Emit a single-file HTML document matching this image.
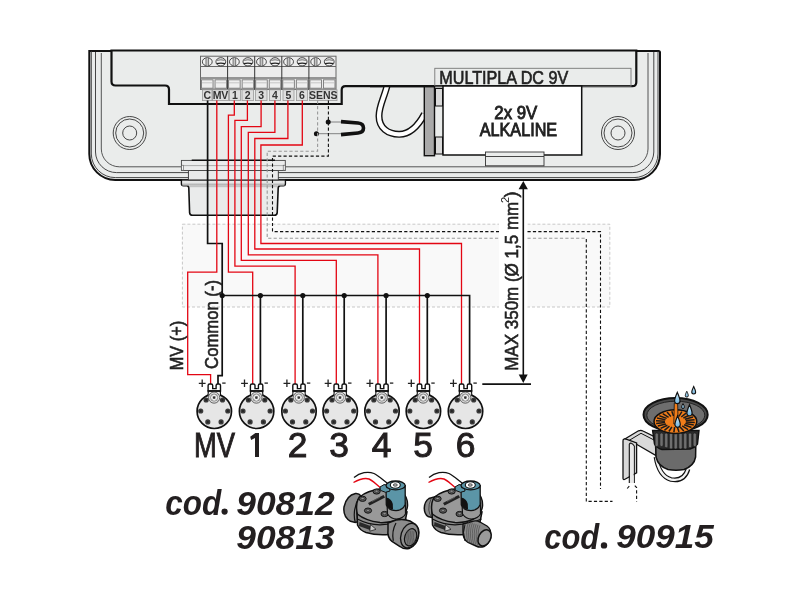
<!DOCTYPE html>
<html><head><meta charset="utf-8"><title>wiring</title><style>
html,body{margin:0;padding:0;background:#fff;width:801px;height:601px;overflow:hidden}
svg{display:block;will-change:transform}
text{font-family:"Liberation Sans", sans-serif}
</style></head><body>
<svg width="801" height="601" viewBox="0 0 801 601">

<path d="M89.3,51 L658.5,51 Q660,51 660,52.5 L660,154 A26,26 0 0 1 634,180 L115.3,180 A26,26 0 0 1 89.3,154 Z" fill="#eaeceb" stroke="#111" stroke-width="2"/>
<path d="M91.3,51 L91.3,154 A24,24 0 0 0 115.3,177.6 L634,177.6 A24,24 0 0 0 658,154 L658,51" fill="none" stroke="#333" stroke-width="0.9"/>
<path d="M95.5,52 L95.5,152 A21,21 0 0 0 116.5,172.6 L632.8,172.6 A21,21 0 0 0 653.8,152 L653.8,52" fill="none" stroke="#333" stroke-width="0.9"/>
<path d="M101.3,53 L101.3,149 A18,18 0 0 0 119.3,166.8 L630,166.8 A18,18 0 0 0 648,149 L648,53" fill="none" stroke="#444" stroke-width="0.9"/>
<circle cx="129.7" cy="133" r="16.5" fill="none" stroke="#333" stroke-width="0.9"/>
<circle cx="129.7" cy="133" r="14" fill="none" stroke="#333" stroke-width="0.9"/>
<circle cx="129.7" cy="133" r="7" fill="none" stroke="#333" stroke-width="0.9"/>
<circle cx="618" cy="133" r="16.5" fill="none" stroke="#333" stroke-width="0.9"/>
<circle cx="618" cy="133" r="14" fill="none" stroke="#333" stroke-width="0.9"/>
<circle cx="618" cy="133" r="7" fill="none" stroke="#333" stroke-width="0.9"/>
<path d="M111.5,50.5 L111.5,81.5 Q111.5,85.5 115.5,85.5 L165,85.5 Q169,85.5 169,89.5 L169,104 L341.7,104 L341.7,90 Q341.7,86.2 345.5,86.2 L632.3,86.2 Q636.3,86.2 636.3,82.2 L636.3,50.5 Z" fill="#eaeceb" stroke="#111" stroke-width="2.2"/>
<rect x="200.50" y="56.2" width="135.50" height="33.3" fill="#ececec" stroke="#666" stroke-width="1"/>
<line x1="200.50" y1="66.5" x2="336.00" y2="66.5" stroke="#666" stroke-width="1"/>
<line x1="200.50" y1="78" x2="336.00" y2="78" stroke="#777" stroke-width="1.6"/>
<line x1="200.50" y1="89.3" x2="336.00" y2="89.3" stroke="#777" stroke-width="1.6"/>
<ellipse cx="207.28" cy="61.8" rx="4.9" ry="4.1" fill="#f2f2f2" stroke="#333" stroke-width="0.9"/>
<rect x="206.18" y="58" width="2.2" height="7.6" fill="#c4c4c4"/>
<path d="M205.97,58 L205.97,65.6 M208.58,58 L208.58,65.6" stroke="#444" stroke-width="0.7"/>
<rect x="201.50" y="79.8" width="11.55" height="8.4" fill="#efefef" stroke="#777" stroke-width="0.9"/>
<line x1="202.00" y1="82.8" x2="212.55" y2="82.8" stroke="#bbb" stroke-width="0.8"/>
<ellipse cx="220.83" cy="61.8" rx="4.9" ry="4.1" fill="#f2f2f2" stroke="#333" stroke-width="0.9"/>
<path d="M217.03,60.3 Q220.83,59.3 224.63,60.3" fill="none" stroke="#444" stroke-width="0.8"/>
<path d="M216.63,63.6 Q220.83,62.6 225.03,63.6" fill="none" stroke="#222" stroke-width="1.2"/>
<rect x="215.05" y="79.8" width="11.55" height="8.4" fill="#efefef" stroke="#777" stroke-width="0.9"/>
<line x1="215.55" y1="82.8" x2="226.10" y2="82.8" stroke="#bbb" stroke-width="0.8"/>
<ellipse cx="234.38" cy="61.8" rx="4.9" ry="4.1" fill="#f2f2f2" stroke="#333" stroke-width="0.9"/>
<rect x="233.28" y="58" width="2.2" height="7.6" fill="#c4c4c4"/>
<path d="M233.07,58 L233.07,65.6 M235.68,58 L235.68,65.6" stroke="#444" stroke-width="0.7"/>
<rect x="228.60" y="79.8" width="11.55" height="8.4" fill="#efefef" stroke="#777" stroke-width="0.9"/>
<line x1="229.10" y1="82.8" x2="239.65" y2="82.8" stroke="#bbb" stroke-width="0.8"/>
<ellipse cx="247.93" cy="61.8" rx="4.9" ry="4.1" fill="#f2f2f2" stroke="#333" stroke-width="0.9"/>
<path d="M244.12,60.3 Q247.93,59.3 251.73,60.3" fill="none" stroke="#444" stroke-width="0.8"/>
<path d="M243.73,63.6 Q247.93,62.6 252.12,63.6" fill="none" stroke="#222" stroke-width="1.2"/>
<rect x="242.15" y="79.8" width="11.55" height="8.4" fill="#efefef" stroke="#777" stroke-width="0.9"/>
<line x1="242.65" y1="82.8" x2="253.20" y2="82.8" stroke="#bbb" stroke-width="0.8"/>
<ellipse cx="261.47" cy="61.8" rx="4.9" ry="4.1" fill="#f2f2f2" stroke="#333" stroke-width="0.9"/>
<rect x="260.37" y="58" width="2.2" height="7.6" fill="#c4c4c4"/>
<path d="M260.17,58 L260.17,65.6 M262.77,58 L262.77,65.6" stroke="#444" stroke-width="0.7"/>
<rect x="255.70" y="79.8" width="11.55" height="8.4" fill="#efefef" stroke="#777" stroke-width="0.9"/>
<line x1="256.20" y1="82.8" x2="266.75" y2="82.8" stroke="#bbb" stroke-width="0.8"/>
<ellipse cx="275.02" cy="61.8" rx="4.9" ry="4.1" fill="#f2f2f2" stroke="#333" stroke-width="0.9"/>
<path d="M271.22,60.3 Q275.02,59.3 278.82,60.3" fill="none" stroke="#444" stroke-width="0.8"/>
<path d="M270.82,63.6 Q275.02,62.6 279.22,63.6" fill="none" stroke="#222" stroke-width="1.2"/>
<rect x="269.25" y="79.8" width="11.55" height="8.4" fill="#efefef" stroke="#777" stroke-width="0.9"/>
<line x1="269.75" y1="82.8" x2="280.30" y2="82.8" stroke="#bbb" stroke-width="0.8"/>
<ellipse cx="288.57" cy="61.8" rx="4.9" ry="4.1" fill="#f2f2f2" stroke="#333" stroke-width="0.9"/>
<rect x="287.47" y="58" width="2.2" height="7.6" fill="#c4c4c4"/>
<path d="M287.27,58 L287.27,65.6 M289.88,58 L289.88,65.6" stroke="#444" stroke-width="0.7"/>
<rect x="282.80" y="79.8" width="11.55" height="8.4" fill="#efefef" stroke="#777" stroke-width="0.9"/>
<line x1="283.30" y1="82.8" x2="293.85" y2="82.8" stroke="#bbb" stroke-width="0.8"/>
<ellipse cx="302.12" cy="61.8" rx="4.9" ry="4.1" fill="#f2f2f2" stroke="#333" stroke-width="0.9"/>
<path d="M298.32,60.3 Q302.12,59.3 305.93,60.3" fill="none" stroke="#444" stroke-width="0.8"/>
<path d="M297.93,63.6 Q302.12,62.6 306.32,63.6" fill="none" stroke="#222" stroke-width="1.2"/>
<rect x="296.35" y="79.8" width="11.55" height="8.4" fill="#efefef" stroke="#777" stroke-width="0.9"/>
<line x1="296.85" y1="82.8" x2="307.40" y2="82.8" stroke="#bbb" stroke-width="0.8"/>
<ellipse cx="315.67" cy="61.8" rx="4.9" ry="4.1" fill="#f2f2f2" stroke="#333" stroke-width="0.9"/>
<rect x="314.57" y="58" width="2.2" height="7.6" fill="#c4c4c4"/>
<path d="M314.37,58 L314.37,65.6 M316.97,58 L316.97,65.6" stroke="#444" stroke-width="0.7"/>
<rect x="309.90" y="79.8" width="11.55" height="8.4" fill="#efefef" stroke="#777" stroke-width="0.9"/>
<line x1="310.40" y1="82.8" x2="320.95" y2="82.8" stroke="#bbb" stroke-width="0.8"/>
<ellipse cx="329.22" cy="61.8" rx="4.9" ry="4.1" fill="#f2f2f2" stroke="#333" stroke-width="0.9"/>
<path d="M325.42,60.3 Q329.22,59.3 333.02,60.3" fill="none" stroke="#444" stroke-width="0.8"/>
<path d="M325.02,63.6 Q329.22,62.6 333.42,63.6" fill="none" stroke="#222" stroke-width="1.2"/>
<rect x="323.45" y="79.8" width="11.55" height="8.4" fill="#efefef" stroke="#777" stroke-width="0.9"/>
<line x1="323.95" y1="82.8" x2="334.50" y2="82.8" stroke="#bbb" stroke-width="0.8"/>
<line x1="227.60" y1="56.2" x2="227.60" y2="89.5" stroke="#333" stroke-width="1"/>
<line x1="254.70" y1="56.2" x2="254.70" y2="89.5" stroke="#333" stroke-width="1"/>
<line x1="281.80" y1="56.2" x2="281.80" y2="89.5" stroke="#333" stroke-width="1"/>
<line x1="308.90" y1="56.2" x2="308.90" y2="89.5" stroke="#333" stroke-width="1"/>
<rect x="202.50" y="89.8" width="9.50" height="10.8" fill="#dedede" stroke="#999" stroke-width="0.8"/>
<text x="207.25" y="99.2" font-size="10.5" font-weight="bold" fill="#333" text-anchor="middle">C</text>
<rect x="212.50" y="89.8" width="16.00" height="10.8" fill="#dedede" stroke="#999" stroke-width="0.8"/>
<text x="220.50" y="99.2" font-size="10.5" font-weight="bold" fill="#333" text-anchor="middle">MV</text>
<rect x="229.50" y="89.8" width="11.00" height="10.8" fill="#dedede" stroke="#999" stroke-width="0.8"/>
<text x="235.00" y="99.2" font-size="10.5" font-weight="bold" fill="#333" text-anchor="middle">1</text>
<rect x="242.00" y="89.8" width="11.50" height="10.8" fill="#dedede" stroke="#999" stroke-width="0.8"/>
<text x="247.75" y="99.2" font-size="10.5" font-weight="bold" fill="#333" text-anchor="middle">2</text>
<rect x="255.50" y="89.8" width="11.50" height="10.8" fill="#dedede" stroke="#999" stroke-width="0.8"/>
<text x="261.25" y="99.2" font-size="10.5" font-weight="bold" fill="#333" text-anchor="middle">3</text>
<rect x="269.50" y="89.8" width="11.00" height="10.8" fill="#dedede" stroke="#999" stroke-width="0.8"/>
<text x="275.00" y="99.2" font-size="10.5" font-weight="bold" fill="#333" text-anchor="middle">4</text>
<rect x="283.00" y="89.8" width="11.00" height="10.8" fill="#dedede" stroke="#999" stroke-width="0.8"/>
<text x="288.50" y="99.2" font-size="10.5" font-weight="bold" fill="#333" text-anchor="middle">5</text>
<rect x="296.50" y="89.8" width="11.00" height="10.8" fill="#dedede" stroke="#999" stroke-width="0.8"/>
<text x="302.00" y="99.2" font-size="10.5" font-weight="bold" fill="#333" text-anchor="middle">6</text>
<rect x="309.50" y="89.8" width="27.50" height="10.8" fill="#dedede" stroke="#999" stroke-width="0.8"/>
<text x="323.25" y="99.2" font-size="10.5" font-weight="bold" fill="#333" text-anchor="middle">SENS</text>
<rect x="434.8" y="68.3" width="196.2" height="17.9" fill="none" stroke="#777" stroke-width="0.9"/>
<text x="439.3" y="83.6" font-size="17.8" fill="#222" stroke="#222" stroke-width="0.6" textLength="129" lengthAdjust="spacingAndGlyphs">MULTIPLA DC 9V</text>
<path d="M387,86 C384,98 379,106 379,116 C379,128 388,134.3 399,134.3 C410,134.5 418,126 424.5,114" fill="none" stroke="#111" stroke-width="7"/>
<path d="M387,86 C384,98 379,106 379,116 C379,128 388,134.3 399,134.3 C410,134.5 418,126 424.5,114" fill="none" stroke="#fff" stroke-width="4.2"/>
<line x1="370" y1="86.2" x2="426" y2="86.2" stroke="#111" stroke-width="2.2"/>
<rect x="424.3" y="86.7" width="10.2" height="69" fill="#a9a9a9" stroke="#111" stroke-width="1.4"/>
<rect x="435.5" y="88.5" width="7" height="17.5" fill="#dadada" stroke="#111" stroke-width="1"/>
<rect x="435.5" y="137" width="7" height="17" fill="#dadada" stroke="#111" stroke-width="1"/>
<rect x="443" y="86" width="138.7" height="69" fill="#fff" stroke="#111" stroke-width="1.5"/>
<rect x="485.5" y="152" width="58.5" height="13.8" fill="#eaeceb" stroke="#333" stroke-width="0.9"/>
<line x1="485.5" y1="156.5" x2="544" y2="156.5" stroke="#333" stroke-width="0.9"/>
<text x="494.3" y="118.7" font-size="17.6" fill="#222" stroke="#222" stroke-width="0.85" textLength="43" lengthAdjust="spacingAndGlyphs">2x 9V</text>
<text x="479.7" y="135.5" font-size="17.6" fill="#222" stroke="#222" stroke-width="0.85" textLength="77.5" lengthAdjust="spacingAndGlyphs">ALKALINE</text>
<line x1="328.2" y1="122" x2="342" y2="122" stroke="#777" stroke-width="0.9"/>
<line x1="316.4" y1="133.7" x2="342" y2="133.7" stroke="#777" stroke-width="0.9"/>
<path d="M341,121.6 L358,123 Q363.5,123.5 363.5,128 Q363.5,132.5 358,133 L341,134.6" fill="none" stroke="#111" stroke-width="3.6"/>
<defs><linearGradient id="gfl" x1="0" y1="0" x2="0" y2="1"><stop offset="0" stop-color="#ebecec"/><stop offset="0.45" stop-color="#e4e5e5"/><stop offset="0.75" stop-color="#b4b5b5"/><stop offset="1" stop-color="#c9caca"/></linearGradient></defs>
<path d="M181.5,180 L181.5,184 Q181.5,185.6 183.5,185.6 L186.8,185.6 Q188.8,185.6 188.8,188 L189.6,212.6 Q189.8,215.3 192.5,215.3 L274.3,215.3 Q277,215.3 277.2,212.6 L278.2,188 Q278.2,185.6 280.5,185.6 L283.4,185.6 Q285.3,185.6 285.3,184 L285.3,180 Z" fill="#eaebeb" stroke="#111" stroke-width="1.6"/>
<rect x="182.3" y="180.6" width="102.2" height="5" fill="url(#gfl)"/>
<rect x="189.6" y="185.2" width="87.8" height="2" fill="#c2c3c3"/>
<rect x="188.4" y="170.5" width="89.9" height="9.5" fill="#eaebeb" stroke="#333" stroke-width="0.9"/>
<rect x="181.4" y="160.4" width="103.9" height="10.1" fill="#ebecec" stroke="#444" stroke-width="0.9"/>
<line x1="181.8" y1="165.6" x2="284.9" y2="165.6" stroke="#aaa" stroke-width="1"/>
<rect x="181.6" y="165.2" width="2" height="5" fill="#f6f6f6" stroke="#555" stroke-width="0.6"/>
<rect x="283.2" y="165.2" width="2" height="5" fill="#f6f6f6" stroke="#555" stroke-width="0.6"/>
<line x1="191.7" y1="160.2" x2="275" y2="160.2" stroke="#111" stroke-width="1.6"/>
<line x1="182" y1="180.2" x2="285" y2="180.2" stroke="#444" stroke-width="0.9"/>
<rect x="182.4" y="224.2" width="427.4" height="82.8" fill="#f9f9f9" stroke="#bbb" stroke-width="0.8" stroke-dasharray="3,2"/>
<rect x="499" y="222" width="28.5" height="90" fill="#fff"/>
<path d="M207.6,100.6 L207.6,243.5 L222.2,243.5 L222.2,375.6 L218,375.6 L218,385" fill="none" stroke="#111" stroke-width="1.7"/>
<path d="M216.8,100.6 L216.8,272.2 L187.7,272.2 L187.7,374.6 L210.6,374.6 L210.6,385" fill="none" stroke="#e30613" stroke-width="1.3"/>
<path d="M234.3,100.6 L234.3,115.2 L228.4,115.2 L228.4,272.2 L252.7,272.2 L252.7,385" fill="none" stroke="#e30613" stroke-width="1.3"/>
<path d="M247.4,100.6 L247.4,120.3 L234.9,120.3 L234.9,266.2 L295.1,266.2 L295.1,385" fill="none" stroke="#e30613" stroke-width="1.3"/>
<path d="M261.1,100.6 L261.1,126.6 L241.3,126.6 L241.3,260.3 L336.3,260.3 L336.3,385" fill="none" stroke="#e30613" stroke-width="1.3"/>
<path d="M274.9,100.6 L274.9,132.3 L248.3,132.3 L248.3,254.8 L377.9,254.8 L377.9,385" fill="none" stroke="#e30613" stroke-width="1.3"/>
<path d="M287.9,100.6 L287.9,138.5 L254.8,138.5 L254.8,249.0 L419.5,249.0 L419.5,385" fill="none" stroke="#e30613" stroke-width="1.3"/>
<path d="M302.3,100.6 L302.3,145.0 L260.9,145.0 L260.9,243.5 L461.5,243.5 L461.5,385" fill="none" stroke="#e30613" stroke-width="1.3"/>
<path d="M222.2,295.5 L469.6,295.5 L469.6,385" fill="none" stroke="#111" stroke-width="1.7"/>
<line x1="260.4" y1="295.5" x2="260.4" y2="385" stroke="#111" stroke-width="1.7"/>
<line x1="302.8" y1="295.5" x2="302.8" y2="385" stroke="#111" stroke-width="1.7"/>
<line x1="344.2" y1="295.5" x2="344.2" y2="385" stroke="#111" stroke-width="1.7"/>
<line x1="386.1" y1="295.5" x2="386.1" y2="385" stroke="#111" stroke-width="1.7"/>
<line x1="427.3" y1="295.5" x2="427.3" y2="385" stroke="#111" stroke-width="1.7"/>
<circle cx="222.2" cy="295.5" r="2.6" fill="#111"/>
<circle cx="260.4" cy="295.5" r="2.6" fill="#111"/>
<circle cx="302.8" cy="295.5" r="2.6" fill="#111"/>
<circle cx="344.2" cy="295.5" r="2.6" fill="#111"/>
<circle cx="386.1" cy="295.5" r="2.6" fill="#111"/>
<circle cx="427.3" cy="295.5" r="2.6" fill="#111"/>
<circle cx="328.2" cy="122" r="2.5" fill="#111"/>
<circle cx="316.4" cy="133.7" r="2.5" fill="#111"/>
<path d="M317.6,100.6 L317.6,151.2 L267.2,151.2 L267.2,238.2 L499,238.2 M527.5,238.2 L586.3,238.2" fill="none" stroke="#999" stroke-width="1.1" stroke-dasharray="3.2,2.2"/>
<path d="M586.3,239 L586.3,501.4 L612.5,501.4" fill="none" stroke="#111" stroke-width="1.1" stroke-dasharray="3.2,2.2"/>
<path d="M328.4,100.6 L328.4,156.1 L272.5,156.1 L272.5,231.6 L499,231.6 M527.5,231.6 L600.5,231.6 L600.5,489" fill="none" stroke="#111" stroke-width="1.1" stroke-dasharray="3.2,2.2"/>
<line x1="523.3" y1="186" x2="523.3" y2="378" stroke="#111" stroke-width="1.6"/>
<path d="M523.3,181 L527.9,189.2 L518.6,189.2 Z" fill="#111"/>
<path d="M523.3,383 L527.7,374.6 L518.7,374.6 Z" fill="#111"/>
<line x1="482.3" y1="384.1" x2="531" y2="384.1" stroke="#111" stroke-width="1.7"/>
<text transform="translate(518.2,370.8) rotate(-90)" font-size="19.2" fill="#222" stroke="#222" stroke-width="0.6" textLength="169" lengthAdjust="spacingAndGlyphs">MAX 350m (Ø 1,5 mm</text>
<text transform="translate(508.6,203) rotate(-90)" font-size="11" fill="#222">2</text>
<text transform="translate(516.6,197.5) rotate(-90)" font-size="19.2" fill="#222" stroke="#222" stroke-width="0.6" textLength="6" lengthAdjust="spacingAndGlyphs">)</text>
<text transform="translate(218.2,368.9) rotate(-90)" font-size="19" fill="#222" stroke="#222" stroke-width="0.6" textLength="88.9" lengthAdjust="spacingAndGlyphs">Common (-)</text>
<text transform="translate(183.4,370.3) rotate(-90)" font-size="19" fill="#222" stroke="#222" stroke-width="0.6" textLength="49.4" lengthAdjust="spacingAndGlyphs">MV (+)</text>
<g transform="translate(214.3,0)">
<path d="M-6,390 L-6,395 M6,390 L6,395" stroke="#111" stroke-width="1.4"/>
<circle cx="0" cy="411.3" r="17.2" fill="#e6e6e6" stroke="#111" stroke-width="1.7"/>
<path d="M-6.2,391 L-6.2,385.6 Q-6.2,384 -4.6,384 L-3.2,384 Q-1.6,384 -1.6,385.6 L-1.6,388.6 L1.8,388.6 L1.8,385.6 Q1.8,384 3.4,384 L4.6,384 Q6.2,384 6.2,385.6 L6.2,391 Z" fill="#fff" stroke="#111" stroke-width="1.4"/>
<rect x="-6.2" y="390.2" width="12.4" height="1.6" fill="#111"/>
<path d="M-5.6,392.5 L5.6,392.5 L5.6,396 Q0,394.5 -5.6,396 Z" fill="#e6e6e6"/>
<circle cx="-0.2" cy="397.6" r="5.6" fill="#ddd" stroke="#444" stroke-width="0.8"/>
<circle cx="-0.2" cy="397.6" r="3.6" fill="#f2f2f2" stroke="#666" stroke-width="0.7"/>
<path d="M-3.2,394.6 L2.8,400.6 M2.8,394.6 L-3.2,400.6" stroke="#888" stroke-width="0.5"/>
<circle cx="-0.2" cy="397.6" r="1.3" fill="#333"/>
<circle cx="-8.2" cy="400" r="2.6" fill="#3a3a3a"/>
<circle cx="-8.2" cy="400" r="1" fill="#222"/>
<circle cx="8.2" cy="400" r="2.6" fill="#3a3a3a"/>
<circle cx="8.2" cy="400" r="1" fill="#222"/>
<circle cx="-13.6" cy="411" r="2.6" fill="#3a3a3a"/>
<circle cx="-13.6" cy="411" r="1" fill="#222"/>
<circle cx="13.5" cy="411" r="2.6" fill="#3a3a3a"/>
<circle cx="13.5" cy="411" r="1" fill="#222"/>
<circle cx="-6.5" cy="421.9" r="2.6" fill="#3a3a3a"/>
<circle cx="-6.5" cy="421.9" r="1" fill="#222"/>
<circle cx="6.8" cy="421.9" r="2.6" fill="#3a3a3a"/>
<circle cx="6.8" cy="421.9" r="1" fill="#222"/>
<path d="M-15.5,383.3 L-8.7,383.3 M-12.1,379.6 L-12.1,387" stroke="#222" stroke-width="1.3"/>
<path d="M7.9,383.1 L11.3,383.1" stroke="#222" stroke-width="1.3"/>
</g>
<g transform="translate(256.6,0)">
<path d="M-6,390 L-6,395 M6,390 L6,395" stroke="#111" stroke-width="1.4"/>
<circle cx="0" cy="411.3" r="17.2" fill="#e6e6e6" stroke="#111" stroke-width="1.7"/>
<path d="M-6.2,391 L-6.2,385.6 Q-6.2,384 -4.6,384 L-3.2,384 Q-1.6,384 -1.6,385.6 L-1.6,388.6 L1.8,388.6 L1.8,385.6 Q1.8,384 3.4,384 L4.6,384 Q6.2,384 6.2,385.6 L6.2,391 Z" fill="#fff" stroke="#111" stroke-width="1.4"/>
<rect x="-6.2" y="390.2" width="12.4" height="1.6" fill="#111"/>
<path d="M-5.6,392.5 L5.6,392.5 L5.6,396 Q0,394.5 -5.6,396 Z" fill="#e6e6e6"/>
<circle cx="-0.2" cy="397.6" r="5.6" fill="#ddd" stroke="#444" stroke-width="0.8"/>
<circle cx="-0.2" cy="397.6" r="3.6" fill="#f2f2f2" stroke="#666" stroke-width="0.7"/>
<path d="M-3.2,394.6 L2.8,400.6 M2.8,394.6 L-3.2,400.6" stroke="#888" stroke-width="0.5"/>
<circle cx="-0.2" cy="397.6" r="1.3" fill="#333"/>
<circle cx="-8.2" cy="400" r="2.6" fill="#3a3a3a"/>
<circle cx="-8.2" cy="400" r="1" fill="#222"/>
<circle cx="8.2" cy="400" r="2.6" fill="#3a3a3a"/>
<circle cx="8.2" cy="400" r="1" fill="#222"/>
<circle cx="-13.6" cy="411" r="2.6" fill="#3a3a3a"/>
<circle cx="-13.6" cy="411" r="1" fill="#222"/>
<circle cx="13.5" cy="411" r="2.6" fill="#3a3a3a"/>
<circle cx="13.5" cy="411" r="1" fill="#222"/>
<circle cx="-6.5" cy="421.9" r="2.6" fill="#3a3a3a"/>
<circle cx="-6.5" cy="421.9" r="1" fill="#222"/>
<circle cx="6.8" cy="421.9" r="2.6" fill="#3a3a3a"/>
<circle cx="6.8" cy="421.9" r="1" fill="#222"/>
<path d="M-15.5,383.3 L-8.7,383.3 M-12.1,379.6 L-12.1,387" stroke="#222" stroke-width="1.3"/>
<path d="M7.9,383.1 L11.3,383.1" stroke="#222" stroke-width="1.3"/>
</g>
<g transform="translate(299.0,0)">
<path d="M-6,390 L-6,395 M6,390 L6,395" stroke="#111" stroke-width="1.4"/>
<circle cx="0" cy="411.3" r="17.2" fill="#e6e6e6" stroke="#111" stroke-width="1.7"/>
<path d="M-6.2,391 L-6.2,385.6 Q-6.2,384 -4.6,384 L-3.2,384 Q-1.6,384 -1.6,385.6 L-1.6,388.6 L1.8,388.6 L1.8,385.6 Q1.8,384 3.4,384 L4.6,384 Q6.2,384 6.2,385.6 L6.2,391 Z" fill="#fff" stroke="#111" stroke-width="1.4"/>
<rect x="-6.2" y="390.2" width="12.4" height="1.6" fill="#111"/>
<path d="M-5.6,392.5 L5.6,392.5 L5.6,396 Q0,394.5 -5.6,396 Z" fill="#e6e6e6"/>
<circle cx="-0.2" cy="397.6" r="5.6" fill="#ddd" stroke="#444" stroke-width="0.8"/>
<circle cx="-0.2" cy="397.6" r="3.6" fill="#f2f2f2" stroke="#666" stroke-width="0.7"/>
<path d="M-3.2,394.6 L2.8,400.6 M2.8,394.6 L-3.2,400.6" stroke="#888" stroke-width="0.5"/>
<circle cx="-0.2" cy="397.6" r="1.3" fill="#333"/>
<circle cx="-8.2" cy="400" r="2.6" fill="#3a3a3a"/>
<circle cx="-8.2" cy="400" r="1" fill="#222"/>
<circle cx="8.2" cy="400" r="2.6" fill="#3a3a3a"/>
<circle cx="8.2" cy="400" r="1" fill="#222"/>
<circle cx="-13.6" cy="411" r="2.6" fill="#3a3a3a"/>
<circle cx="-13.6" cy="411" r="1" fill="#222"/>
<circle cx="13.5" cy="411" r="2.6" fill="#3a3a3a"/>
<circle cx="13.5" cy="411" r="1" fill="#222"/>
<circle cx="-6.5" cy="421.9" r="2.6" fill="#3a3a3a"/>
<circle cx="-6.5" cy="421.9" r="1" fill="#222"/>
<circle cx="6.8" cy="421.9" r="2.6" fill="#3a3a3a"/>
<circle cx="6.8" cy="421.9" r="1" fill="#222"/>
<path d="M-15.5,383.3 L-8.7,383.3 M-12.1,379.6 L-12.1,387" stroke="#222" stroke-width="1.3"/>
<path d="M7.9,383.1 L11.3,383.1" stroke="#222" stroke-width="1.3"/>
</g>
<g transform="translate(340.2,0)">
<path d="M-6,390 L-6,395 M6,390 L6,395" stroke="#111" stroke-width="1.4"/>
<circle cx="0" cy="411.3" r="17.2" fill="#e6e6e6" stroke="#111" stroke-width="1.7"/>
<path d="M-6.2,391 L-6.2,385.6 Q-6.2,384 -4.6,384 L-3.2,384 Q-1.6,384 -1.6,385.6 L-1.6,388.6 L1.8,388.6 L1.8,385.6 Q1.8,384 3.4,384 L4.6,384 Q6.2,384 6.2,385.6 L6.2,391 Z" fill="#fff" stroke="#111" stroke-width="1.4"/>
<rect x="-6.2" y="390.2" width="12.4" height="1.6" fill="#111"/>
<path d="M-5.6,392.5 L5.6,392.5 L5.6,396 Q0,394.5 -5.6,396 Z" fill="#e6e6e6"/>
<circle cx="-0.2" cy="397.6" r="5.6" fill="#ddd" stroke="#444" stroke-width="0.8"/>
<circle cx="-0.2" cy="397.6" r="3.6" fill="#f2f2f2" stroke="#666" stroke-width="0.7"/>
<path d="M-3.2,394.6 L2.8,400.6 M2.8,394.6 L-3.2,400.6" stroke="#888" stroke-width="0.5"/>
<circle cx="-0.2" cy="397.6" r="1.3" fill="#333"/>
<circle cx="-8.2" cy="400" r="2.6" fill="#3a3a3a"/>
<circle cx="-8.2" cy="400" r="1" fill="#222"/>
<circle cx="8.2" cy="400" r="2.6" fill="#3a3a3a"/>
<circle cx="8.2" cy="400" r="1" fill="#222"/>
<circle cx="-13.6" cy="411" r="2.6" fill="#3a3a3a"/>
<circle cx="-13.6" cy="411" r="1" fill="#222"/>
<circle cx="13.5" cy="411" r="2.6" fill="#3a3a3a"/>
<circle cx="13.5" cy="411" r="1" fill="#222"/>
<circle cx="-6.5" cy="421.9" r="2.6" fill="#3a3a3a"/>
<circle cx="-6.5" cy="421.9" r="1" fill="#222"/>
<circle cx="6.8" cy="421.9" r="2.6" fill="#3a3a3a"/>
<circle cx="6.8" cy="421.9" r="1" fill="#222"/>
<path d="M-15.5,383.3 L-8.7,383.3 M-12.1,379.6 L-12.1,387" stroke="#222" stroke-width="1.3"/>
<path d="M7.9,383.1 L11.3,383.1" stroke="#222" stroke-width="1.3"/>
</g>
<g transform="translate(382.0,0)">
<path d="M-6,390 L-6,395 M6,390 L6,395" stroke="#111" stroke-width="1.4"/>
<circle cx="0" cy="411.3" r="17.2" fill="#e6e6e6" stroke="#111" stroke-width="1.7"/>
<path d="M-6.2,391 L-6.2,385.6 Q-6.2,384 -4.6,384 L-3.2,384 Q-1.6,384 -1.6,385.6 L-1.6,388.6 L1.8,388.6 L1.8,385.6 Q1.8,384 3.4,384 L4.6,384 Q6.2,384 6.2,385.6 L6.2,391 Z" fill="#fff" stroke="#111" stroke-width="1.4"/>
<rect x="-6.2" y="390.2" width="12.4" height="1.6" fill="#111"/>
<path d="M-5.6,392.5 L5.6,392.5 L5.6,396 Q0,394.5 -5.6,396 Z" fill="#e6e6e6"/>
<circle cx="-0.2" cy="397.6" r="5.6" fill="#ddd" stroke="#444" stroke-width="0.8"/>
<circle cx="-0.2" cy="397.6" r="3.6" fill="#f2f2f2" stroke="#666" stroke-width="0.7"/>
<path d="M-3.2,394.6 L2.8,400.6 M2.8,394.6 L-3.2,400.6" stroke="#888" stroke-width="0.5"/>
<circle cx="-0.2" cy="397.6" r="1.3" fill="#333"/>
<circle cx="-8.2" cy="400" r="2.6" fill="#3a3a3a"/>
<circle cx="-8.2" cy="400" r="1" fill="#222"/>
<circle cx="8.2" cy="400" r="2.6" fill="#3a3a3a"/>
<circle cx="8.2" cy="400" r="1" fill="#222"/>
<circle cx="-13.6" cy="411" r="2.6" fill="#3a3a3a"/>
<circle cx="-13.6" cy="411" r="1" fill="#222"/>
<circle cx="13.5" cy="411" r="2.6" fill="#3a3a3a"/>
<circle cx="13.5" cy="411" r="1" fill="#222"/>
<circle cx="-6.5" cy="421.9" r="2.6" fill="#3a3a3a"/>
<circle cx="-6.5" cy="421.9" r="1" fill="#222"/>
<circle cx="6.8" cy="421.9" r="2.6" fill="#3a3a3a"/>
<circle cx="6.8" cy="421.9" r="1" fill="#222"/>
<path d="M-15.5,383.3 L-8.7,383.3 M-12.1,379.6 L-12.1,387" stroke="#222" stroke-width="1.3"/>
<path d="M7.9,383.1 L11.3,383.1" stroke="#222" stroke-width="1.3"/>
</g>
<g transform="translate(423.4,0)">
<path d="M-6,390 L-6,395 M6,390 L6,395" stroke="#111" stroke-width="1.4"/>
<circle cx="0" cy="411.3" r="17.2" fill="#e6e6e6" stroke="#111" stroke-width="1.7"/>
<path d="M-6.2,391 L-6.2,385.6 Q-6.2,384 -4.6,384 L-3.2,384 Q-1.6,384 -1.6,385.6 L-1.6,388.6 L1.8,388.6 L1.8,385.6 Q1.8,384 3.4,384 L4.6,384 Q6.2,384 6.2,385.6 L6.2,391 Z" fill="#fff" stroke="#111" stroke-width="1.4"/>
<rect x="-6.2" y="390.2" width="12.4" height="1.6" fill="#111"/>
<path d="M-5.6,392.5 L5.6,392.5 L5.6,396 Q0,394.5 -5.6,396 Z" fill="#e6e6e6"/>
<circle cx="-0.2" cy="397.6" r="5.6" fill="#ddd" stroke="#444" stroke-width="0.8"/>
<circle cx="-0.2" cy="397.6" r="3.6" fill="#f2f2f2" stroke="#666" stroke-width="0.7"/>
<path d="M-3.2,394.6 L2.8,400.6 M2.8,394.6 L-3.2,400.6" stroke="#888" stroke-width="0.5"/>
<circle cx="-0.2" cy="397.6" r="1.3" fill="#333"/>
<circle cx="-8.2" cy="400" r="2.6" fill="#3a3a3a"/>
<circle cx="-8.2" cy="400" r="1" fill="#222"/>
<circle cx="8.2" cy="400" r="2.6" fill="#3a3a3a"/>
<circle cx="8.2" cy="400" r="1" fill="#222"/>
<circle cx="-13.6" cy="411" r="2.6" fill="#3a3a3a"/>
<circle cx="-13.6" cy="411" r="1" fill="#222"/>
<circle cx="13.5" cy="411" r="2.6" fill="#3a3a3a"/>
<circle cx="13.5" cy="411" r="1" fill="#222"/>
<circle cx="-6.5" cy="421.9" r="2.6" fill="#3a3a3a"/>
<circle cx="-6.5" cy="421.9" r="1" fill="#222"/>
<circle cx="6.8" cy="421.9" r="2.6" fill="#3a3a3a"/>
<circle cx="6.8" cy="421.9" r="1" fill="#222"/>
<path d="M-15.5,383.3 L-8.7,383.3 M-12.1,379.6 L-12.1,387" stroke="#222" stroke-width="1.3"/>
<path d="M7.9,383.1 L11.3,383.1" stroke="#222" stroke-width="1.3"/>
</g>
<g transform="translate(465.5,0)">
<path d="M-6,390 L-6,395 M6,390 L6,395" stroke="#111" stroke-width="1.4"/>
<circle cx="0" cy="411.3" r="17.2" fill="#e6e6e6" stroke="#111" stroke-width="1.7"/>
<path d="M-6.2,391 L-6.2,385.6 Q-6.2,384 -4.6,384 L-3.2,384 Q-1.6,384 -1.6,385.6 L-1.6,388.6 L1.8,388.6 L1.8,385.6 Q1.8,384 3.4,384 L4.6,384 Q6.2,384 6.2,385.6 L6.2,391 Z" fill="#fff" stroke="#111" stroke-width="1.4"/>
<rect x="-6.2" y="390.2" width="12.4" height="1.6" fill="#111"/>
<path d="M-5.6,392.5 L5.6,392.5 L5.6,396 Q0,394.5 -5.6,396 Z" fill="#e6e6e6"/>
<circle cx="-0.2" cy="397.6" r="5.6" fill="#ddd" stroke="#444" stroke-width="0.8"/>
<circle cx="-0.2" cy="397.6" r="3.6" fill="#f2f2f2" stroke="#666" stroke-width="0.7"/>
<path d="M-3.2,394.6 L2.8,400.6 M2.8,394.6 L-3.2,400.6" stroke="#888" stroke-width="0.5"/>
<circle cx="-0.2" cy="397.6" r="1.3" fill="#333"/>
<circle cx="-8.2" cy="400" r="2.6" fill="#3a3a3a"/>
<circle cx="-8.2" cy="400" r="1" fill="#222"/>
<circle cx="8.2" cy="400" r="2.6" fill="#3a3a3a"/>
<circle cx="8.2" cy="400" r="1" fill="#222"/>
<circle cx="-13.6" cy="411" r="2.6" fill="#3a3a3a"/>
<circle cx="-13.6" cy="411" r="1" fill="#222"/>
<circle cx="13.5" cy="411" r="2.6" fill="#3a3a3a"/>
<circle cx="13.5" cy="411" r="1" fill="#222"/>
<circle cx="-6.5" cy="421.9" r="2.6" fill="#3a3a3a"/>
<circle cx="-6.5" cy="421.9" r="1" fill="#222"/>
<circle cx="6.8" cy="421.9" r="2.6" fill="#3a3a3a"/>
<circle cx="6.8" cy="421.9" r="1" fill="#222"/>
<path d="M-15.5,383.3 L-8.7,383.3 M-12.1,379.6 L-12.1,387" stroke="#222" stroke-width="1.3"/>
<path d="M7.9,383.1 L11.3,383.1" stroke="#222" stroke-width="1.3"/>
</g>
<text x="193.9" y="457.3" font-size="35.4" fill="#231f20" stroke="#231f20" stroke-width="1.0" textLength="41" lengthAdjust="spacingAndGlyphs">MV</text>
<path d="M259,433.1 L259,456.9 L255,456.9 L255,438 L251.1,440 L250.2,436.7 L255.4,433.1 Z" fill="#231f20"/>
<text x="297.5" y="457.3" font-size="35.4" fill="#231f20" stroke="#231f20" stroke-width="1.0" text-anchor="middle">2</text>
<text x="339.0" y="457.3" font-size="35.4" fill="#231f20" stroke="#231f20" stroke-width="1.0" text-anchor="middle">3</text>
<text x="381.5" y="457.3" font-size="35.4" fill="#231f20" stroke="#231f20" stroke-width="1.0" text-anchor="middle">4</text>
<text x="423.0" y="457.3" font-size="35.4" fill="#231f20" stroke="#231f20" stroke-width="1.0" text-anchor="middle">5</text>
<text x="465.5" y="457.3" font-size="35.4" fill="#231f20" stroke="#231f20" stroke-width="1.0" text-anchor="middle">6</text>
<g transform="translate(0.0,0)">
<path d="M354,477.5 C360,472.5 368,471 374,473.5 C379,476 383,480 388.5,484" stroke="#111" stroke-width="1.3" fill="none"/>
<path d="M353.5,482.5 C358,480 364,477.5 369,479 C373,480.5 376.5,485 381.5,488.5" stroke="#e30613" stroke-width="1.4" fill="none"/>
<path d="M361,496 Q359,493.3 355.5,493.6 Q346.5,495.5 344,507 Q342.8,517 350.5,521.3 L355.3,522.4 L360,521 Z" fill="#8c8c8c" stroke="#111" stroke-width="1.5"/>
<path d="M355.2,522 Q352,510 359.5,496.3" fill="none" stroke="#111" stroke-width="1.2"/>
<path d="M357.2,520.5 Q355,510 361,498" fill="none" stroke="#333" stroke-width="0.7"/>
<path d="M357,510 L357.5,525 Q360,530.5 366,532.5 Q376,535.5 389,534.5 L404,527 L407,512 Z" fill="#8c8c8c" stroke="#111" stroke-width="1.5"/>
<path d="M358,519.3 Q368,524.8 380,524.8 Q395,524.3 406.5,519" fill="none" stroke="#111" stroke-width="1.2"/>
<path d="M357.3,514 Q355.5,505 358,499.5 Q362,493 374.6,490 Q384,487.5 392,488 L402,492 Q408,497 407.5,506 Q406.5,515 398,519.3 Q390,523 380,522.6 Q365,520.5 357.3,514 Z" fill="#999" stroke="#111" stroke-width="1.5"/>
<ellipse cx="362.6" cy="498.8" rx="3.6" ry="2.6" fill="#5e5e5e" stroke="#111" stroke-width="1"/>
<ellipse cx="362.6" cy="498.5" rx="1.7" ry="1.1" fill="#9a9a9a" stroke="#222" stroke-width="0.6"/>
<ellipse cx="368.0" cy="510.6" rx="3.6" ry="2.6" fill="#5e5e5e" stroke="#111" stroke-width="1"/>
<ellipse cx="368.0" cy="510.3" rx="1.7" ry="1.1" fill="#9a9a9a" stroke="#222" stroke-width="0.6"/>
<ellipse cx="384.6" cy="514.0" rx="3.6" ry="2.6" fill="#5e5e5e" stroke="#111" stroke-width="1"/>
<ellipse cx="384.6" cy="513.7" rx="1.7" ry="1.1" fill="#9a9a9a" stroke="#222" stroke-width="0.6"/>
<ellipse cx="376.6" cy="491.5" rx="3.6" ry="2.6" fill="#5e5e5e" stroke="#111" stroke-width="1"/>
<ellipse cx="376.6" cy="491.2" rx="1.7" ry="1.1" fill="#9a9a9a" stroke="#222" stroke-width="0.6"/>
<path d="M368,503 L383.5,495 L385,497.5 L369.5,505.5 Z" fill="#222"/>
<path d="M372,501.5 L380,497.3" stroke="#777" stroke-width="0.6"/>
<path d="M359.5,522 L370.5,526 L370,530 L359,526 Z" fill="#2a2a2a"/>
<path d="M370.5,524.5 L376,529.3 L369.8,531.2 Z" fill="#c8c8c8" stroke="#111" stroke-width="0.7"/>
<path d="M387,503 L387.5,514 Q391,519 396.5,519 Q403,518.5 405.5,514 L405.5,503 Z" fill="#999" stroke="#111" stroke-width="1.2"/>
<path d="M386,485.6 L386.3,505 Q389,510.5 396,510.6 Q403,510.3 405.2,504.5 L405.2,485.6 Z" fill="#5b95a7" stroke="#111" stroke-width="1.3"/>
<path d="M386.3,497.5 Q391.5,498.5 392.8,504 L393,509.6 Q388,508.6 386.4,505 Z" fill="#111"/>
<path d="M380,487 L384,484.6 L389,485.2 L390,491 L385.5,492.3 L380.3,490.3 Z" fill="#5b95a7" stroke="#111" stroke-width="1"/>
<ellipse cx="395.6" cy="485.4" rx="9.6" ry="4.4" fill="#5b95a7" stroke="#111" stroke-width="1.3"/>
<ellipse cx="395.3" cy="485" rx="5" ry="3.2" fill="#fff" stroke="#111" stroke-width="1.1"/>
<ellipse cx="395.3" cy="485" rx="2" ry="1.3" fill="#aaa" stroke="#333" stroke-width="0.7"/>
<path d="M388,523 L396,520 Q404,518.5 410,521 L415,524 Q420,528 418.6,536 Q417,545 409,548.6 Q404,549.6 400,546.5 L392,541.5 Q387,537 388,530 Z" fill="#8c8c8c" stroke="#111" stroke-width="1.5"/>
<path d="M396,523 Q391.5,531 393.3,540.8" fill="none" stroke="#111" stroke-width="1.2"/>
<ellipse cx="409.6" cy="535.6" rx="8.6" ry="12.6" transform="rotate(18 409.6 535.6)" fill="#8c8c8c" stroke="#111" stroke-width="1.3"/>
<ellipse cx="410.6" cy="537.3" rx="5.8" ry="8.8" transform="rotate(18 410.6 537.3)" fill="#7d7d7d" stroke="#111" stroke-width="1.2"/>
<path d="M407.5,530.0 Q406.0,538.0 408.0,545.0" fill="none" stroke="#444" stroke-width="0.5"/>
<path d="M409.1,530.3 Q407.6,538.0 409.6,544.5" fill="none" stroke="#444" stroke-width="0.5"/>
<path d="M410.7,530.6 Q409.2,538.0 411.2,544.0" fill="none" stroke="#444" stroke-width="0.5"/>
<path d="M412.3,530.9 Q410.8,538.0 412.8,543.5" fill="none" stroke="#444" stroke-width="0.5"/>
<path d="M413.9,531.2 Q412.4,538.0 414.4,543.0" fill="none" stroke="#444" stroke-width="0.5"/>
</g>
<g transform="translate(75.0,0)">
<path d="M354,477.5 C360,472.5 368,471 374,473.5 C379,476 383,480 388.5,484" stroke="#111" stroke-width="1.3" fill="none"/>
<path d="M353.5,482.5 C358,480 364,477.5 369,479 C373,480.5 376.5,485 381.5,488.5" stroke="#e30613" stroke-width="1.4" fill="none"/>
<path d="M361,496.5 L354,498.5 Q349.5,501.5 349.3,508 Q349.3,514 353,516.5 L357,517.5 L361,516.5 Z" fill="#8c8c8c" stroke="#111" stroke-width="1.5"/>
<path d="M356,499 Q353.5,504 353.8,510 Q354.2,514.5 356.5,516.8" fill="none" stroke="#333" stroke-width="0.8"/>
<path d="M357,510 L357.5,525 Q360,530.5 366,532.5 Q376,535.5 389,534.5 L404,527 L407,512 Z" fill="#8c8c8c" stroke="#111" stroke-width="1.5"/>
<path d="M358,519.3 Q368,524.8 380,524.8 Q395,524.3 406.5,519" fill="none" stroke="#111" stroke-width="1.2"/>
<path d="M357.3,514 Q355.5,505 358,499.5 Q362,493 374.6,490 Q384,487.5 392,488 L402,492 Q408,497 407.5,506 Q406.5,515 398,519.3 Q390,523 380,522.6 Q365,520.5 357.3,514 Z" fill="#999" stroke="#111" stroke-width="1.5"/>
<ellipse cx="362.6" cy="498.8" rx="3.6" ry="2.6" fill="#5e5e5e" stroke="#111" stroke-width="1"/>
<ellipse cx="362.6" cy="498.5" rx="1.7" ry="1.1" fill="#9a9a9a" stroke="#222" stroke-width="0.6"/>
<ellipse cx="368.0" cy="510.6" rx="3.6" ry="2.6" fill="#5e5e5e" stroke="#111" stroke-width="1"/>
<ellipse cx="368.0" cy="510.3" rx="1.7" ry="1.1" fill="#9a9a9a" stroke="#222" stroke-width="0.6"/>
<ellipse cx="384.6" cy="514.0" rx="3.6" ry="2.6" fill="#5e5e5e" stroke="#111" stroke-width="1"/>
<ellipse cx="384.6" cy="513.7" rx="1.7" ry="1.1" fill="#9a9a9a" stroke="#222" stroke-width="0.6"/>
<ellipse cx="376.6" cy="491.5" rx="3.6" ry="2.6" fill="#5e5e5e" stroke="#111" stroke-width="1"/>
<ellipse cx="376.6" cy="491.2" rx="1.7" ry="1.1" fill="#9a9a9a" stroke="#222" stroke-width="0.6"/>
<path d="M368,503 L383.5,495 L385,497.5 L369.5,505.5 Z" fill="#222"/>
<path d="M372,501.5 L380,497.3" stroke="#777" stroke-width="0.6"/>
<path d="M359.5,522 L370.5,526 L370,530 L359,526 Z" fill="#2a2a2a"/>
<path d="M370.5,524.5 L376,529.3 L369.8,531.2 Z" fill="#c8c8c8" stroke="#111" stroke-width="0.7"/>
<path d="M387,503 L387.5,514 Q391,519 396.5,519 Q403,518.5 405.5,514 L405.5,503 Z" fill="#999" stroke="#111" stroke-width="1.2"/>
<path d="M386,485.6 L386.3,505 Q389,510.5 396,510.6 Q403,510.3 405.2,504.5 L405.2,485.6 Z" fill="#5b95a7" stroke="#111" stroke-width="1.3"/>
<path d="M386.3,497.5 Q391.5,498.5 392.8,504 L393,509.6 Q388,508.6 386.4,505 Z" fill="#111"/>
<path d="M380,487 L384,484.6 L389,485.2 L390,491 L385.5,492.3 L380.3,490.3 Z" fill="#5b95a7" stroke="#111" stroke-width="1"/>
<ellipse cx="395.6" cy="485.4" rx="9.6" ry="4.4" fill="#5b95a7" stroke="#111" stroke-width="1.3"/>
<ellipse cx="395.3" cy="485" rx="5" ry="3.2" fill="#fff" stroke="#111" stroke-width="1.1"/>
<ellipse cx="395.3" cy="485" rx="2" ry="1.3" fill="#aaa" stroke="#333" stroke-width="0.7"/>
<path d="M388,524 L397,521.5 Q401,520 405,522 L412,526 Q416.5,529 415.5,536 Q414.5,544 409,546.5 Q405,548 401,546 L393,542.5 Q387.5,539 388,531 Z" fill="#8a8a8a" stroke="#111" stroke-width="1.4"/>
<path d="M393.5,521.8 Q390.0,532.0 393.0,543.0" fill="none" stroke="#444" stroke-width="0.6"/>
<path d="M395.4,522.4 Q391.9,532.4 394.9,543.4" fill="none" stroke="#444" stroke-width="0.6"/>
<path d="M397.3,523.0 Q393.8,532.8 396.8,543.8" fill="none" stroke="#444" stroke-width="0.6"/>
<path d="M399.2,523.6 Q395.7,533.2 398.7,544.2" fill="none" stroke="#444" stroke-width="0.6"/>
<path d="M401.1,524.2 Q397.6,533.6 400.6,544.6" fill="none" stroke="#444" stroke-width="0.6"/>
<path d="M403.0,524.8 Q399.5,534.0 402.5,545.0" fill="none" stroke="#444" stroke-width="0.6"/>
<path d="M404.9,525.4 Q401.4,534.4 404.4,545.4" fill="none" stroke="#444" stroke-width="0.6"/>
<path d="M390,524.5 Q387,532 390,541" fill="none" stroke="#111" stroke-width="1"/>
<ellipse cx="409.6" cy="537.9" rx="6" ry="8.6" transform="rotate(28 409.6 537.9)" fill="#9a9a9a" stroke="#111" stroke-width="1.5"/>
</g>
<g id="sensor">
<path d="M656,457 Q659,476 671,479.5 Q684,482 688,469" fill="none" stroke="#111" stroke-width="4.8"/>
<path d="M656,457 Q659,476 671,479.5 Q684,482 688,469" fill="none" stroke="#f2f2f2" stroke-width="2.4"/>
<path d="M624,439.5 L638.5,430.8 Q641,429.8 643,431 L655,437 L656,455.5 L633.5,442.5 Z" fill="#d9d9d9" stroke="#111" stroke-width="1.3"/>
<path d="M626.5,442 L641,433.3 L655,440.5" fill="none" stroke="#111" stroke-width="1"/>
<path d="M623,441 Q623,438.5 625.5,439 L636.6,443 L636.6,472.8 L624.5,479.5 Q623,480 623,478 Z" fill="#d9d9d9" stroke="#111" stroke-width="1.3"/>
<path d="M629.3,444 L629.3,483 M634.3,446 L634.3,483" fill="none" stroke="#111" stroke-width="1.1"/>
<path d="M631.8,445 L631.8,483" fill="none" stroke="#e9e9e9" stroke-width="3.6"/>
<path d="M629.3,444 Q631,441.5 634.3,446" fill="none" stroke="#111" stroke-width="1.1"/>
<path d="M655.8,445 L656,457 Q658,466 668,469.5 Q676,471 684,469.5 Q694,466 695.6,457 L695.8,445 Z" fill="#6b6b6b" stroke="#111" stroke-width="1.5"/>
<path d="M652.6,430.5 L699,430.5 L697.5,444 Q695,447.5 690,449 L662,449.5 Q656.5,448 654.5,444 Z" fill="#2b2b2b" stroke="#111" stroke-width="1.4"/>
<rect x="655.1" y="433" width="3.3" height="13.5" rx="1.5" fill="#6f6f6f" stroke="#1a1a1a" stroke-width="0.6"/>
<rect x="659.9" y="433" width="3.3" height="13.5" rx="1.5" fill="#6f6f6f" stroke="#1a1a1a" stroke-width="0.6"/>
<rect x="664.6" y="433" width="3.3" height="14.7" rx="1.5" fill="#6f6f6f" stroke="#1a1a1a" stroke-width="0.6"/>
<rect x="669.4" y="433" width="3.3" height="16.0" rx="1.5" fill="#6f6f6f" stroke="#1a1a1a" stroke-width="0.6"/>
<rect x="674.1" y="433" width="3.3" height="16.0" rx="1.5" fill="#6f6f6f" stroke="#1a1a1a" stroke-width="0.6"/>
<rect x="678.9" y="433" width="3.3" height="16.0" rx="1.5" fill="#6f6f6f" stroke="#1a1a1a" stroke-width="0.6"/>
<rect x="683.6" y="433" width="3.3" height="16.0" rx="1.5" fill="#6f6f6f" stroke="#1a1a1a" stroke-width="0.6"/>
<rect x="688.4" y="433" width="3.3" height="14.7" rx="1.5" fill="#6f6f6f" stroke="#1a1a1a" stroke-width="0.6"/>
<rect x="693.1" y="433" width="3.3" height="13.5" rx="1.5" fill="#6f6f6f" stroke="#1a1a1a" stroke-width="0.6"/>
<ellipse cx="675.6" cy="414.7" rx="32.1" ry="16.6" fill="#4a4a4a" stroke="#111" stroke-width="2"/>
<ellipse cx="675.8" cy="415.2" rx="29" ry="14" fill="#6e6e6e" stroke="#222" stroke-width="1"/>
<ellipse cx="675.4" cy="421.6" rx="21.4" ry="11.8" fill="#f07d1a" stroke="#111" stroke-width="1.5"/>
<line x1="685.9" y1="422.0" x2="694.8" y2="422.4" stroke="#1a1a1a" stroke-width="1.5"/>
<line x1="685.3" y1="423.5" x2="693.8" y2="425.1" stroke="#1a1a1a" stroke-width="1.5"/>
<line x1="684.1" y1="424.8" x2="691.5" y2="427.5" stroke="#1a1a1a" stroke-width="1.5"/>
<line x1="682.2" y1="425.9" x2="688.1" y2="429.6" stroke="#1a1a1a" stroke-width="1.5"/>
<line x1="679.9" y1="426.7" x2="683.8" y2="431.1" stroke="#1a1a1a" stroke-width="1.5"/>
<line x1="677.3" y1="427.1" x2="679.0" y2="431.9" stroke="#1a1a1a" stroke-width="1.5"/>
<line x1="674.6" y1="427.2" x2="673.9" y2="432.1" stroke="#1a1a1a" stroke-width="1.5"/>
<line x1="671.9" y1="426.9" x2="668.9" y2="431.5" stroke="#1a1a1a" stroke-width="1.5"/>
<line x1="669.5" y1="426.2" x2="664.4" y2="430.3" stroke="#1a1a1a" stroke-width="1.5"/>
<line x1="667.4" y1="425.2" x2="660.6" y2="428.4" stroke="#1a1a1a" stroke-width="1.5"/>
<line x1="665.9" y1="424.0" x2="657.8" y2="426.1" stroke="#1a1a1a" stroke-width="1.5"/>
<line x1="665.1" y1="422.6" x2="656.2" y2="423.5" stroke="#1a1a1a" stroke-width="1.5"/>
<line x1="664.9" y1="421.2" x2="656.0" y2="420.8" stroke="#1a1a1a" stroke-width="1.5"/>
<line x1="665.5" y1="419.7" x2="657.0" y2="418.1" stroke="#1a1a1a" stroke-width="1.5"/>
<line x1="666.7" y1="418.4" x2="659.3" y2="415.7" stroke="#1a1a1a" stroke-width="1.5"/>
<line x1="668.6" y1="417.3" x2="662.7" y2="413.6" stroke="#1a1a1a" stroke-width="1.5"/>
<line x1="670.9" y1="416.5" x2="667.0" y2="412.1" stroke="#1a1a1a" stroke-width="1.5"/>
<line x1="673.5" y1="416.1" x2="671.8" y2="411.3" stroke="#1a1a1a" stroke-width="1.5"/>
<line x1="676.2" y1="416.0" x2="676.9" y2="411.1" stroke="#1a1a1a" stroke-width="1.5"/>
<line x1="678.9" y1="416.3" x2="681.9" y2="411.7" stroke="#1a1a1a" stroke-width="1.5"/>
<line x1="681.3" y1="417.0" x2="686.4" y2="412.9" stroke="#1a1a1a" stroke-width="1.5"/>
<line x1="683.4" y1="418.0" x2="690.2" y2="414.8" stroke="#1a1a1a" stroke-width="1.5"/>
<line x1="684.9" y1="419.2" x2="693.0" y2="417.1" stroke="#1a1a1a" stroke-width="1.5"/>
<line x1="685.7" y1="420.6" x2="694.6" y2="419.7" stroke="#1a1a1a" stroke-width="1.5"/>
<ellipse cx="675.4" cy="421.2" rx="8" ry="4.6" fill="#f07d1a"/>
<path d="M674.3,403 L677.6,403 L678.2,424 L673.8,424 Z" fill="#f07d1a" stroke="#111" stroke-width="0.8"/>
<defs><linearGradient id="dg" x1="0" y1="0" x2="0" y2="1"><stop offset="0" stop-color="#d4eefa"/><stop offset="1" stop-color="#6fb3de"/></linearGradient></defs>
<path d="M677.30,392.40 C678.25,394.64 680.00,398.47 680.00,400.90 A2.70,2.70 0 1 1 674.60,400.90 C674.60,398.47 676.35,394.64 677.30,392.40 Z" fill="url(#dg)" stroke="#111" stroke-width="1.2"/>
<path d="M689.50,404.70 C690.41,406.94 692.10,410.96 692.10,413.30 A2.60,2.60 0 1 1 686.90,413.30 C686.90,410.96 688.59,406.94 689.50,404.70 Z" fill="url(#dg)" stroke="#111" stroke-width="1.2"/>
<path d="M677.60,415.75 C678.55,418.05 680.30,422.12 680.30,424.55 A2.70,2.70 0 1 1 674.90,424.55 C674.90,422.12 676.65,418.05 677.60,415.75 Z" fill="url(#dg)" stroke="#111" stroke-width="1.2"/>
<path d="M683.00,403.50 C683.49,404.50 684.40,405.84 684.40,407.10 A1.40,1.40 0 1 1 681.60,407.10 C681.60,405.84 682.51,404.50 683.00,403.50 Z" fill="url(#dg)" stroke="#111" stroke-width="1.0"/>
<path d="M686.80,391.30 C687.32,392.46 688.30,394.25 688.30,395.60 A1.50,1.50 0 1 1 685.30,395.60 C685.30,394.25 686.27,392.46 686.80,391.30 Z" fill="url(#dg)" stroke="#111" stroke-width="1.0"/>
<path d="M693.70,386.60 C694.38,388.08 695.65,390.30 695.65,392.05 A1.95,1.95 0 1 1 691.75,392.05 C691.75,390.30 693.02,388.08 693.70,386.60 Z" fill="url(#dg)" stroke="#111" stroke-width="1.1"/>
</g>
<path d="M627.2,488.5 L629.5,485.8 M634.8,485.6 L636.6,487.5 L636.6,501.5" fill="none" stroke="#111" stroke-width="1.1" stroke-dasharray="3.2,2.2"/>
<text x="165.20" y="514.80" font-size="35.00" textLength="56.00" lengthAdjust="spacingAndGlyphs" font-weight="bold" font-style="italic" fill="#231f20" >cod</text>
<circle cx="224.6" cy="511.6" r="3.1" fill="#231f20"/>
<text x="236.20" y="514.80" font-size="33.50" textLength="98.50" lengthAdjust="spacingAndGlyphs" font-weight="bold" font-style="italic" fill="#231f20" >90812</text>
<text x="236.20" y="548.50" font-size="33.50" textLength="98.50" lengthAdjust="spacingAndGlyphs" font-weight="bold" font-style="italic" fill="#231f20" >90813</text>
<text x="544.20" y="548.60" font-size="35.00" textLength="55.00" lengthAdjust="spacingAndGlyphs" font-weight="bold" font-style="italic" fill="#231f20" >cod</text>
<circle cx="604" cy="545.4" r="3.2" fill="#231f20"/>
<text x="616.20" y="548.40" font-size="33.50" textLength="97.50" lengthAdjust="spacingAndGlyphs" font-weight="bold" font-style="italic" fill="#231f20" >90915</text>
</svg>
</body></html>
